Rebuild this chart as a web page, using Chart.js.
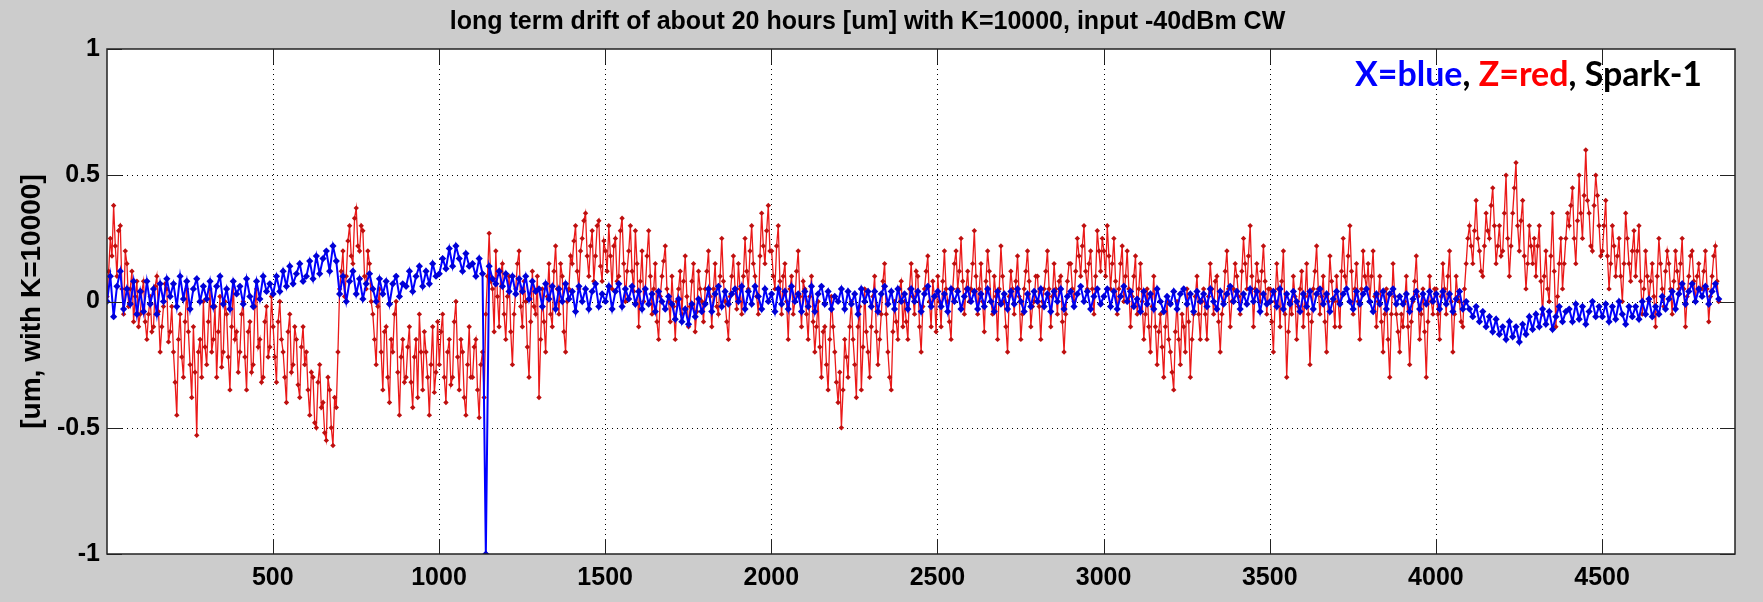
<!DOCTYPE html>
<html>
<head>
<meta charset="utf-8">
<title>long term drift</title>
<script src="https://cdn.jsdelivr.net/npm/chart.js@4.4.0/dist/chart.umd.min.js"></script>
<style>
  html, body { margin: 0; padding: 0; background: #cccccc; }
  canvas { display: block; }
</style>
</head>
<body>
<canvas id="drift" width="1763" height="602"></canvas>
<script>

// sample number of the first plotted point, and samples between plotted points
const firstSample = 1;
const xStep = 10;
const zStep = 5;

const xTicks = [500, 1000, 1500, 2000, 2500, 3000, 3500, 4000, 4500];
const yTicks = [-1, -0.5, 0, 0.5, 1];

// X position drift [um], one row per 100 samples
const xBlue = [
    0.00, 0.10, -0.06, 0.06, 0.12, -0.03, 0.05, -0.01, 0.08, -0.05,
    0.04, -0.04, 0.08, -0.01, 0.05, -0.05, 0.07, 0.00, 0.09, 0.02,
    0.07, -0.02, 0.10, 0.01, 0.08, -0.03, 0.05, 0.09, 0.00, 0.06,
    0.01, 0.08, -0.02, 0.06, 0.10, -0.01, 0.05, -0.03, 0.08, 0.03,
    0.06, -0.01, 0.09, 0.02, -0.02, 0.08, 0.01, 0.10, 0.04, 0.07,
    0.03, 0.10, 0.04, 0.12, 0.06, 0.14, 0.07, 0.11, 0.15, 0.08,
    0.10, 0.16, 0.09, 0.18, 0.11, 0.17, 0.20, 0.12, 0.22, 0.16,
    0.03, 0.10, 0.00, 0.08, 0.12, 0.03, 0.09, 0.01, 0.07, 0.11,
    0.05, 0.00, 0.09, 0.03, 0.08, -0.01, 0.07, 0.10, 0.02, 0.07,
    0.06, 0.12, 0.04, 0.10, 0.14, 0.06, 0.12, 0.07, 0.15, 0.10,
    0.11, 0.17, 0.13, 0.21, 0.14, 0.22, 0.17, 0.12, 0.19, 0.14,
    0.15, 0.10, 0.17, 0.11, -1.00, 0.14, 0.09, 0.07, 0.12, 0.06,
    0.11, 0.04, 0.10, 0.03, 0.09, 0.04, 0.10, 0.01, 0.08, 0.04,
    0.05, -0.02, 0.07, 0.01, 0.06, -0.03, 0.05, 0.00, 0.07, 0.01,
    0.04, -0.04, 0.06, 0.00, 0.05, -0.03, 0.04, 0.07, -0.02, 0.03,
    0.00, 0.06, -0.03, 0.04, 0.07, -0.02, 0.05, 0.01, 0.06, -0.01,
    0.04, -0.03, 0.05, -0.01, 0.03, -0.04, 0.04, 0.00, -0.03, 0.02,
    -0.01, -0.07, 0.01, -0.08, -0.03, -0.09, -0.01, -0.06, 0.01, -0.04,
    -0.01, 0.05, -0.04, 0.03, 0.06, -0.02, 0.04, -0.01, 0.03, 0.05,
    0.00, 0.06, -0.03, 0.04, -0.01, 0.06, 0.02, -0.03, 0.05, 0.00,
    0.03, -0.04, 0.05, -0.01, 0.04, -0.03, 0.06, 0.00, 0.03, -0.04,
    0.04, -0.02, 0.06, -0.04, 0.03, 0.06, -0.01, 0.04, -0.03, 0.02,
    0.00, 0.05, -0.03, 0.04, -0.01, 0.03, -0.05, 0.05, 0.00, 0.04,
    -0.02, 0.04, -0.04, 0.03, 0.06, -0.01, 0.04, -0.03, 0.05, 0.00,
    0.03, -0.03, 0.05, 0.00, 0.04, -0.04, 0.03, 0.06, -0.02, 0.02,
    0.04, -0.02, 0.03, -0.04, 0.05, 0.00, 0.04, -0.03, 0.02, 0.05,
    0.00, 0.04, -0.03, 0.03, -0.02, 0.05, 0.00, -0.04, 0.04, -0.01,
    0.03, -0.03, 0.04, -0.01, 0.05, 0.00, -0.04, 0.03, -0.02, 0.04,
    0.00, 0.05, -0.02, 0.03, -0.04, 0.04, 0.00, 0.05, -0.03, 0.02,
    0.04, -0.02, 0.03, 0.06, 0.00, 0.04, -0.03, 0.02, 0.05, -0.01,
    0.02, 0.05, -0.02, 0.04, -0.03, 0.02, 0.06, 0.00, 0.04, -0.02,
    0.01, -0.04, 0.04, -0.01, 0.03, -0.03, 0.05, 0.00, -0.04, 0.02,
    -0.01, 0.04, -0.03, 0.03, 0.05, -0.01, 0.03, -0.04, 0.04, 0.00,
    0.03, -0.02, 0.05, 0.00, -0.03, 0.04, -0.01, 0.03, 0.06, 0.00,
    0.04, -0.03, 0.03, -0.01, 0.05, 0.00, 0.04, -0.04, 0.03, -0.01,
    0.00, 0.04, -0.02, 0.05, -0.03, 0.03, -0.01, 0.04, 0.00, -0.04,
    0.03, -0.02, 0.04, -0.03, 0.03, 0.05, -0.01, 0.03, -0.04, 0.01,
    0.04, -0.01, 0.03, 0.05, 0.00, -0.03, 0.04, -0.01, 0.03, 0.05,
    0.00, -0.04, 0.03, -0.01, 0.04, -0.03, 0.03, 0.05, -0.01, 0.02,
    -0.01, 0.03, -0.04, 0.01, 0.04, -0.03, 0.03, -0.01, 0.04, 0.00,
    0.03, -0.03, 0.04, -0.01, 0.03, -0.04, 0.01, 0.04, -0.03, 0.00,
    -0.03, -0.06, -0.02, -0.08, -0.04, -0.10, -0.06, -0.12, -0.07, -0.13,
    -0.10, -0.15, -0.08, -0.14, -0.10, -0.16, -0.09, -0.13, -0.06, -0.11,
    -0.05, -0.10, -0.03, -0.09, -0.04, -0.11, -0.06, -0.02, -0.08, -0.04,
    -0.03, -0.08, -0.01, -0.07, -0.02, -0.09, -0.04, 0.00, -0.06, -0.02,
    -0.06, -0.01, -0.08, -0.02, -0.07, 0.00, -0.05, -0.09, -0.02, -0.06,
    -0.02, -0.07, 0.00, -0.05, 0.01, -0.06, -0.02, -0.05, 0.02, -0.03,
    0.01, 0.04, -0.03, 0.03, 0.07, -0.01, 0.04, 0.07, 0.00, 0.05,
    0.02, 0.06, -0.01, 0.04, 0.07, 0.01
];

// Z position drift [um], one row per 100 samples
const zRed = [
    0.02, 0.12, 0.25, 0.18, 0.38, 0.22, 0.10, 0.28, 0.30, 0.05, -0.05, 0.20, 0.15, -0.02, 0.05, 0.12, -0.08, 0.02, 0.08, -0.10,
    -0.05, 0.04, 0.08, -0.08, -0.15, -0.05, 0.02, -0.12, -0.10, 0.06, 0.10, -0.04, -0.20, -0.10, -0.02, 0.07, 0.05, -0.16, -0.12, -0.02,
    -0.20, -0.32, -0.45, -0.15, -0.05, -0.22, -0.30, -0.08, 0.05, -0.12, -0.25, -0.38, -0.10, -0.28, -0.53, -0.20, -0.15, -0.30, 0.00, -0.18,
    -0.25, -0.08, 0.05, -0.20, -0.15, -0.02, -0.30, -0.12, 0.02, -0.26, -0.20, 0.00, -0.05, -0.22, -0.35, -0.10, 0.08, -0.15, -0.12, -0.28,
    -0.20, -0.05, 0.00, -0.22, -0.35, -0.12, -0.08, -0.28, -0.25, -0.02, 0.05, -0.18, -0.15, -0.32, -0.30, -0.08, -0.02, -0.22, -0.18, 0.02,
    -0.10, -0.22, -0.32, -0.08, 0.00, -0.15, -0.20, -0.30, -0.40, -0.12, -0.05, -0.28, -0.25, -0.10, -0.15, -0.33, -0.38, -0.18, -0.10, -0.25,
    -0.20, -0.35, -0.45, -0.28, -0.30, -0.48, -0.50, -0.32, -0.25, -0.42, -0.40, -0.52, -0.55, -0.30, -0.35, -0.50, -0.57, -0.38, -0.42, -0.20,
    0.05, 0.12, 0.20, 0.02, 0.10, 0.24, 0.30, 0.18, 0.15, 0.33, 0.37, 0.22, 0.20, 0.30, 0.28, 0.10, 0.05, 0.20, 0.15, 0.00,
    -0.05, -0.15, -0.25, -0.02, 0.05, -0.20, -0.35, -0.12, -0.10, -0.30, -0.40, -0.15, -0.20, -0.05, 0.00, -0.28, -0.45, -0.22, -0.15, -0.32,
    -0.30, -0.18, -0.10, -0.32, -0.42, -0.22, -0.15, -0.38, -0.05, -0.20, -0.35, -0.12, -0.20, -0.30, -0.45, -0.25, -0.10, -0.36, -0.28, -0.08,
    -0.25, -0.12, -0.05, -0.30, -0.40, -0.20, -0.15, -0.33, -0.30, -0.08, 0.00, -0.22, -0.35, -0.15, -0.20, -0.38, -0.45, -0.25, -0.10, -0.30,
    -0.30, -0.18, -0.15, -0.35, -0.46, -0.25, -0.20, -0.38, -0.05, 0.10, 0.27, 0.08, 0.05, -0.12, 0.20, 0.02, -0.10, 0.12, 0.15, -0.05,
    -0.15, 0.02, 0.10, -0.12, -0.25, -0.05, 0.05, 0.15, 0.20, -0.02, -0.10, 0.08, 0.00, -0.18, -0.30, -0.08, 0.12, -0.02, -0.05, 0.10,
    -0.38, -0.15, 0.05, -0.08, -0.20, 0.02, 0.15, -0.05, -0.10, 0.12, 0.22, 0.05, -0.05, 0.15, 0.10, -0.12, -0.20, 0.00, 0.05, 0.18,
    0.15, 0.24, 0.30, 0.12, 0.05, 0.20, 0.25, 0.32, 0.35, 0.18, 0.10, 0.22, 0.28, 0.08, 0.18, 0.30, 0.32, 0.14, 0.08, 0.24,
    0.20, 0.12, 0.30, 0.18, 0.05, 0.22, 0.25, 0.08, 0.10, 0.28, 0.33, 0.15, 0.00, 0.12, 0.20, 0.30, 0.12, 0.04, 0.28, 0.15,
    -0.10, 0.08, 0.20, 0.00, 0.05, 0.18, 0.28, 0.10, -0.05, 0.05, 0.15, -0.08, -0.15, 0.02, 0.10, 0.16, 0.22, 0.05, 0.00, -0.08,
    0.10, -0.02, -0.15, 0.00, 0.05, 0.12, -0.05, 0.08, 0.18, 0.02, -0.10, -0.02, 0.08, 0.15, -0.12, -0.04, 0.12, 0.05, 0.00, -0.08,
    0.05, 0.12, 0.20, 0.02, -0.10, 0.05, 0.15, -0.02, -0.05, 0.10, 0.25, 0.08, 0.00, -0.08, -0.15, 0.02, 0.10, 0.18, 0.05, -0.03,
    0.15, 0.05, -0.05, 0.10, 0.25, 0.12, 0.05, 0.20, 0.30, 0.15, 0.10, 0.02, -0.05, 0.18, 0.35, 0.22, 0.15, 0.28, 0.38, 0.20,
    0.20, 0.10, 0.05, 0.22, 0.30, 0.08, -0.05, 0.10, 0.15, 0.00, -0.15, 0.05, 0.10, -0.05, 0.00, 0.12, 0.20, 0.02, -0.10, 0.08,
    0.05, -0.05, -0.15, 0.02, 0.10, -0.08, -0.20, -0.10, 0.00, -0.18, -0.30, -0.12, -0.10, -0.25, -0.35, -0.15, 0.02, -0.10, -0.20, -0.32,
    -0.40, -0.28, -0.50, -0.35, -0.15, -0.22, -0.30, -0.10, 0.00, -0.15, -0.25, -0.38, -0.10, -0.02, -0.35, -0.18, 0.05, -0.12, -0.20, -0.30,
    -0.10, 0.02, 0.10, -0.12, -0.25, -0.15, -0.05, 0.08, 0.15, -0.05, -0.20, -0.30, -0.35, -0.12, 0.00, -0.08, -0.15, 0.05, 0.08, -0.10,
    0.00, -0.08, -0.15, 0.05, 0.15, 0.02, -0.05, 0.12, 0.10, -0.10, -0.20, -0.02, 0.05, 0.12, 0.18, 0.00, -0.10, 0.08, 0.02, -0.12,
    0.10, 0.00, -0.10, 0.08, 0.20, 0.05, 0.00, -0.08, -0.15, 0.05, 0.15, 0.20, 0.05, 0.12, 0.25, 0.08, -0.05, 0.05, 0.12, 0.00,
    0.05, 0.15, 0.28, 0.10, -0.05, 0.05, 0.15, 0.00, -0.12, 0.08, 0.20, 0.12, 0.00, -0.05, 0.10, 0.02, -0.15, 0.05, 0.22, 0.10,
    0.00, -0.10, -0.20, 0.02, 0.12, 0.05, -0.05, 0.08, 0.18, 0.02, -0.15, -0.05, 0.05, 0.12, 0.20, 0.08, -0.10, -0.02, 0.00, 0.10,
    0.10, -0.02, -0.15, 0.00, 0.05, 0.12, 0.20, 0.05, -0.10, 0.02, 0.15, 0.05, -0.05, 0.08, 0.10, -0.08, -0.20, -0.05, 0.08, 0.15,
    0.15, 0.05, 0.00, 0.12, 0.25, 0.18, 0.10, 0.22, 0.30, 0.12, 0.05, 0.15, 0.20, 0.05, -0.05, 0.10, 0.28, 0.20, 0.12, 0.25,
    0.20, 0.10, 0.30, 0.18, 0.05, 0.15, 0.25, 0.08, -0.05, 0.05, 0.15, 0.22, 0.00, 0.10, 0.20, 0.05, -0.10, 0.02, 0.10, 0.18,
    -0.05, 0.05, 0.15, 0.00, -0.15, -0.05, 0.05, -0.10, -0.20, -0.02, 0.10, -0.10, -0.25, -0.12, -0.05, -0.18, -0.30, -0.10, 0.00, -0.15,
    -0.20, -0.28, -0.35, -0.12, 0.00, -0.15, -0.25, -0.05, -0.10, -0.20, 0.05, -0.08, -0.30, -0.15, -0.05, 0.02, 0.10, -0.05, -0.15, 0.00,
    0.05, -0.05, -0.15, 0.02, 0.15, 0.05, -0.05, 0.08, 0.10, -0.08, -0.20, -0.05, 0.00, 0.12, 0.20, 0.05, -0.10, 0.00, 0.05, 0.15,
    0.10, 0.02, -0.05, 0.12, 0.25, 0.15, 0.05, 0.18, 0.30, 0.10, -0.10, 0.05, 0.15, 0.08, 0.00, 0.12, 0.22, 0.08, -0.05, 0.05,
    0.05, -0.08, -0.20, 0.00, 0.15, 0.05, -0.10, 0.08, 0.20, -0.05, -0.30, -0.12, 0.00, -0.05, 0.10, 0.02, -0.15, -0.02, 0.05, 0.12,
    -0.10, 0.02, 0.15, -0.05, -0.25, -0.08, 0.05, 0.12, 0.22, 0.05, -0.05, 0.02, 0.10, -0.08, -0.20, 0.00, 0.18, 0.08, 0.00, -0.10,
    0.10, 0.00, -0.10, 0.12, 0.25, 0.10, 0.05, 0.18, 0.30, 0.12, -0.05, 0.05, 0.15, 0.00, -0.15, 0.05, 0.20, 0.10, 0.05, 0.15,
    0.00, 0.10, 0.20, 0.02, -0.10, 0.00, 0.10, -0.08, -0.20, -0.05, 0.05, -0.15, -0.30, -0.05, 0.15, 0.02, -0.05, -0.12, -0.20, -0.05,
    -0.10, 0.00, 0.10, -0.10, -0.25, -0.08, 0.00, 0.08, 0.18, 0.02, -0.15, -0.05, 0.05, -0.12, -0.30, -0.08, 0.10, 0.00, -0.05, 0.05,
    0.05, -0.05, -0.15, 0.02, 0.15, 0.05, -0.05, 0.10, 0.20, 0.00, -0.20, -0.05, 0.10, 0.02, 0.00, -0.08, -0.10, 0.05, 0.15, 0.25,
    0.30, 0.22, 0.15, 0.28, 0.40, 0.25, 0.20, 0.12, 0.10, 0.22, 0.35, 0.28, 0.25, 0.38, 0.45, 0.30, 0.15, 0.22, 0.30, 0.18,
    0.20, 0.35, 0.50, 0.25, 0.10, 0.22, 0.35, 0.45, 0.55, 0.30, 0.20, 0.32, 0.40, 0.18, 0.05, 0.15, 0.30, 0.22, 0.15, 0.25,
    0.10, 0.22, 0.30, 0.08, -0.05, 0.10, 0.20, 0.05, 0.00, 0.18, 0.35, 0.12, -0.10, 0.02, 0.15, 0.25, 0.05, 0.15, 0.25, 0.35,
    0.30, 0.38, 0.45, 0.25, 0.15, 0.32, 0.50, 0.35, 0.25, 0.42, 0.60, 0.40, 0.35, 0.22, 0.20, 0.38, 0.50, 0.42, 0.30, 0.18,
    0.20, 0.30, 0.40, 0.18, 0.05, 0.15, 0.30, 0.22, 0.10, 0.18, 0.25, 0.10, 0.00, 0.15, 0.35, 0.25, 0.15, 0.08, 0.20, 0.28,
    0.10, 0.20, 0.30, 0.08, -0.05, 0.05, 0.20, 0.10, 0.00, 0.08, 0.15, 0.02, -0.10, 0.10, 0.25, 0.15, 0.05, -0.02, 0.12, 0.20,
    0.15, 0.05, -0.05, 0.08, 0.20, 0.12, 0.05, 0.15, 0.25, 0.05, -0.10, 0.02, 0.10, 0.18, 0.20, 0.08, 0.00, 0.10, 0.15, 0.05,
    0.05, 0.12, 0.20, 0.05, -0.08, 0.02, 0.10, 0.18, 0.22, 0.08, 0.00
];

const titleText = 'long term drift of about 20 hours [um] with K=10000, input -40dBm CW';
const yLabelText = '[um, with K=10000]';
const noteParts = [
    { text: 'X=blue', color: '#0000ff' },
    { text: ', ', color: '#000000' },
    { text: 'Z=red', color: '#ff0000' },
    { text: ', Spark-1', color: '#000000' }
];

function toPoints(values, step) {
    return values.map((v, i) => ({ x: firstSample + i * step, y: v }));
}

// white axes box, dotted grid, inward ticks and the colour note, drawn the matlab way
const matlabAxes = {
    id: 'matlabAxes',
    beforeDatasetsDraw(chart) {
        const { ctx, chartArea: a, scales } = chart;
        ctx.save();
        ctx.fillStyle = '#ffffff';
        ctx.fillRect(a.left, a.top, a.right - a.left, a.bottom - a.top);

        ctx.strokeStyle = '#000000';
        ctx.lineWidth = 1;
        ctx.setLineDash([1, 4]);
        ctx.beginPath();
        xTicks.forEach(v => {
            const px = Math.round(scales.x.getPixelForValue(v)) + 0.5;
            ctx.moveTo(px, a.top);
            ctx.lineTo(px, a.bottom);
        });
        yTicks.slice(1, -1).forEach(v => {
            const py = Math.round(scales.y.getPixelForValue(v)) + 0.5;
            ctx.moveTo(a.left, py);
            ctx.lineTo(a.right, py);
        });
        ctx.stroke();
        ctx.restore();
    },
    afterDatasetsDraw(chart) {
        const { ctx, chartArea: a, scales } = chart;
        const tick = 15;
        ctx.save();
        ctx.strokeStyle = '#222222';
        ctx.lineWidth = 1.5;
        ctx.setLineDash([]);
        ctx.strokeRect(a.left, a.top, a.right - a.left, a.bottom - a.top);

        ctx.lineWidth = 1;
        ctx.beginPath();
        xTicks.forEach(v => {
            const px = Math.round(scales.x.getPixelForValue(v)) + 0.5;
            ctx.moveTo(px, a.bottom);
            ctx.lineTo(px, a.bottom - tick);
            ctx.moveTo(px, a.top);
            ctx.lineTo(px, a.top + tick);
        });
        yTicks.forEach(v => {
            const py = Math.round(scales.y.getPixelForValue(v)) + 0.5;
            ctx.moveTo(a.left, py);
            ctx.lineTo(a.left + tick, py);
            ctx.moveTo(a.right, py);
            ctx.lineTo(a.right - tick, py);
        });
        ctx.stroke();

        // colour note in the upper right corner
        ctx.font = 'bold 35px Lato, "Open Sans", sans-serif';
        ctx.textBaseline = 'alphabetic';
        ctx.textAlign = 'left';
        const full = noteParts.map(p => p.text).join('');
        const w = ctx.measureText(full).width;
        const targetW = 347;
        ctx.translate(1355, 86);
        ctx.scale(targetW / w, 1);
        let x = 0;
        noteParts.forEach(p => {
            ctx.fillStyle = p.color;
            ctx.fillText(p.text, x, 0);
            x += ctx.measureText(p.text).width;
        });
        ctx.restore();
    }
};

const ctx = document.getElementById('drift');

const driftChart = new Chart(ctx, {
    type: 'line',
    data: {
        datasets: [
            {
                label: 'X',
                data: toPoints(xBlue, xStep),
                borderColor: 'rgb(0, 0, 255)',
                borderWidth: 2,
                pointStyle: 'rectRot',
                pointRadius: 3.6,
                pointBorderWidth: 0,
                pointBackgroundColor: 'rgb(0, 0, 215)',
                tension: 0
            },
            {
                label: 'Z',
                data: toPoints(zRed, zStep),
                borderColor: 'rgb(235, 25, 25)',
                borderWidth: 1.3,
                pointStyle: 'rectRot',
                pointRadius: 2.7,
                pointBorderWidth: 0,
                pointBackgroundColor: 'rgb(190, 15, 15)',
                tension: 0
            }
        ]
    },
    options: {
        responsive: false,
        animation: false,
        devicePixelRatio: 1,
        layout: {
            padding: { left: 0, right: 28, top: 0, bottom: 0 }
        },
        scales: {
            x: {
                type: 'linear',
                min: 1,
                max: 4900,
                afterBuildTicks: scale => { scale.ticks = xTicks.map(v => ({ value: v })); },
                afterFit: scale => { scale.height = 48; },
                grid: { display: false, drawTicks: false },
                border: { display: false },
                ticks: {
                    autoSkip: false,
                    maxRotation: 0,
                    padding: 9,
                    color: '#000000',
                    callback: v => String(v),
                    font: { family: '"Liberation Sans", Arial, sans-serif', size: 25, weight: 'bold' }
                }
            },
            y: {
                min: -1,
                max: 1,
                afterBuildTicks: scale => { scale.ticks = yTicks.map(v => ({ value: v })); },
                afterFit: scale => { scale.width = 107; },
                grid: { display: false, drawTicks: false },
                border: { display: false },
                ticks: {
                    padding: 7,
                    color: '#000000',
                    callback: v => String(v),
                    font: { family: '"Liberation Sans", Arial, sans-serif', size: 25, weight: 'bold' }
                },
                title: {
                    display: true,
                    text: yLabelText,
                    color: '#000000',
                    padding: { top: 15, bottom: 0 },
                    font: { family: '"Liberation Sans", Arial, sans-serif', size: 28, weight: 'bold' }
                }
            }
        },
        plugins: {
            legend: { display: false },
            tooltip: { enabled: false },
            title: {
                display: true,
                text: titleText,
                color: '#000000',
                padding: { top: 7, bottom: 12 },
                font: { family: '"Liberation Sans", Arial, sans-serif', size: 25, weight: 'bold' }
            }
        }
    },
    plugins: [matlabAxes]
});

</script>
</body>
</html>
